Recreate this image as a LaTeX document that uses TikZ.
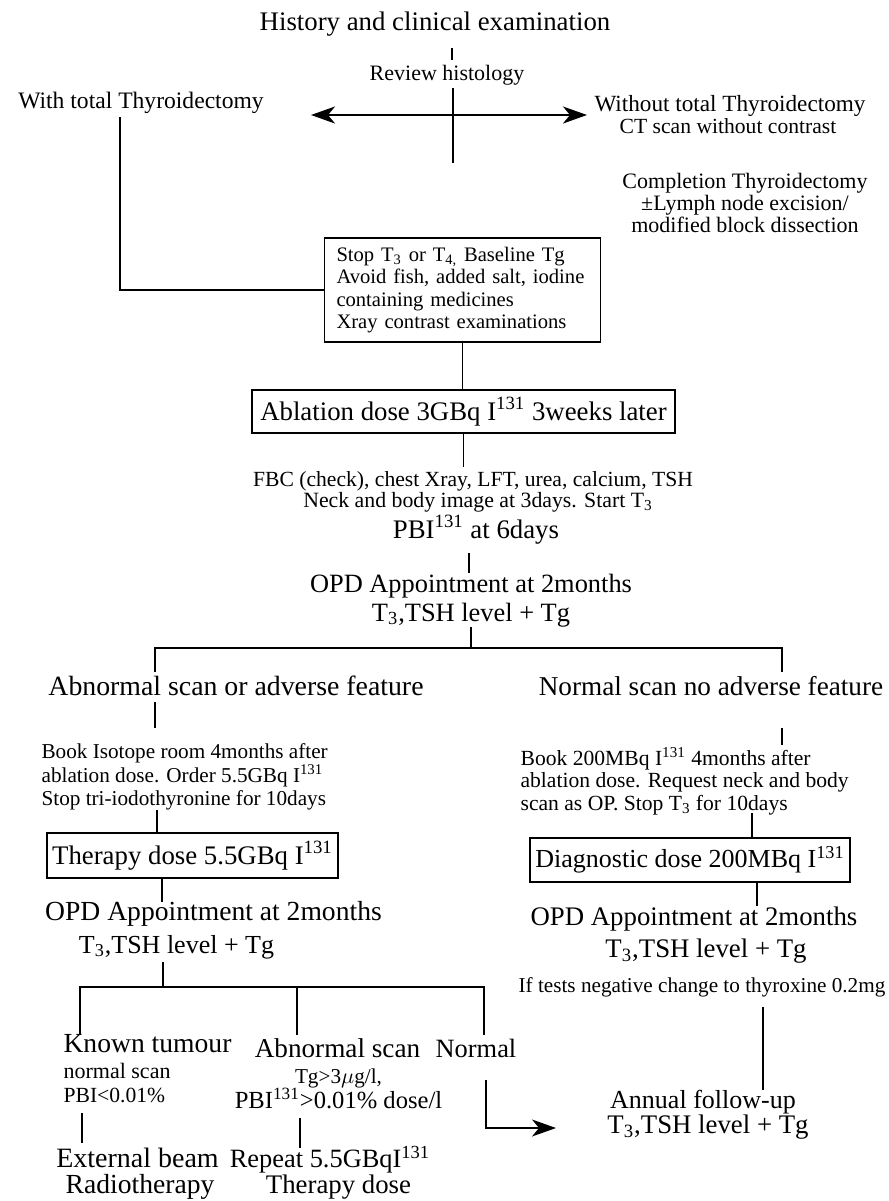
\documentclass[tikz,border=0pt]{standalone}
\usepackage{fontspec}
\setmainfont{Liberation Serif}
\usetikzlibrary{arrows.meta}

\newcommand{\Iod}{I\textsuperscript{131}}
\newcommand{\Tthree}{T\textsubscript{3}}
\newcommand{\fs}[1]{\fontsize{#1}{1.1\dimexpr #1pt\relax}\selectfont}

\begin{document}
\begin{tikzpicture}[x=0.5pt,y=0.5pt,yscale=-1,line width=0.6pt,
    >={Stealth[length=12pt,width=8.5pt,inset=3.5pt]},
    lbl/.style={inner sep=0pt,text height=0.7em,text depth=0.2em},
    bigtxt/.style={lbl,font=\fs{13.4}},
    midtxt/.style={lbl,font=\fs{11.6}},
    smalltxt/.style={lbl,font=\fs{10.8}},
    dosebox/.style={draw,line width=0.8pt,inner sep=2pt,font=\fs{13.4}},
    notes/.style={inner sep=0pt,align=left,anchor=west}]
    \useasboundingbox (0,0) rectangle (889,1201);

    % Text Node
    \node[bigtxt] (title) at (435,25) {History and clinical examination};
    \node[lbl,font=\fs{11}] (histo) at (447,75) {Review histology};
    \node[midtxt,font=\fs{11.8}] (withTT) at (141,103) {With total Thyroidectomy};
    \node[midtxt] (woTT) at (730,106) {Without total Thyroidectomy};
    \node[midtxt,font=\fs{10.8}] (ctscan) at (728,128) {CT scan without contrast};
    \node[inner sep=0pt,align=center,font=\fontsize{11}{9.9}\selectfont] (compl) at (745,203)
        {Completion Thyroidectomy\\±Lymph node excision/\\modified block dissection};

    %Shape: Rectangle
    \node[draw,line width=0.8pt,align=left,text width=126pt,inner xsep=6pt,
        minimum height=52pt,font=\fontsize{10.3}{11.2}\selectfont] (box1) at (462.5,290)
        {Stop \Tthree{} or T\textsubscript{4,} Baseline Tg\\Avoid fish, added salt, iodine\\
         containing medicines\\Xray contrast examinations};
    \node[dosebox,minimum width=211.5pt,minimum height=21.5pt] (ablation) at (463.5,411.5)
        {Ablation dose 3GBq \Iod{} 3weeks later};

    % Text Node
    \node[smalltxt] (fbc) at (473,481) {FBC (check), chest Xray, LFT, urea, calcium, TSH};
    \node[lbl,font=\fs{10.9}] (neck) at (478,502) {Neck and body image at 3days. Start \Tthree};
    \node[bigtxt] (pbi) at (476,533) {PBI\textsuperscript{131} at 6days};
    \node[bigtxt,font=\fs{13.2}] (opdC) at (471,587) {OPD Appointment at 2months};
    \node[bigtxt,font=\fs{13.2}] (tshC) at (471,616) {\Tthree,TSH level + Tg};

    \node[lbl,font=\fs{13.9}] (abn) at (236,690) {Abnormal scan or adverse feature};
    \node[lbl,font=\fs{13.6}] (norm) at (711,690) {Normal scan no adverse feature};

    \node[notes,font=\fontsize{10.6}{11.75}\selectfont] (bookL) at (41,777)
        {Book Isotope room 4months after\\ablation dose. Order 5.5GBq \Iod\\
         Stop tri-iodothyronine for 10days};
    \node[notes,font=\fontsize{10.8}{11.25}\selectfont] (bookR) at (520,781)
        {Book 200MBq \Iod{} 4months after\\ablation dose. Request neck and body\\
         scan as OP. Stop \Tthree{} for 10days};

    %Shape: Rectangle
    \node[dosebox,minimum width=145.5pt,minimum height=22.5pt] (therapy) at (192.5,855.5)
        {Therapy dose 5.5GBq \Iod};
    \node[dosebox,minimum width=160pt,minimum height=22pt,font=\fs{13}] (diag) at (690,860)
        {Diagnostic dose 200MBq \Iod};

    % Text Node
    \node[bigtxt,font=\fs{13.8}] (opdL) at (213.5,915) {OPD Appointment at 2months};
    \node[bigtxt,font=\fs{13}] (tshL) at (176.5,948) {\Tthree,TSH level + Tg};
    \node[bigtxt] (opdR) at (694,920) {OPD Appointment at 2months};
    \node[bigtxt] (tshR) at (706,952) {\Tthree,TSH level + Tg};
    \node[lbl,font=\fs{10.6}] (negtest) at (702,987) {If tests negative change to thyroxine 0.2mg};

    \node[lbl,font=\fs{13.8}] (known) at (147.5,1047) {Known tumour};
    \node[lbl,font=\fs{13.6}] (abnScan) at (337.5,1052) {Abnormal scan};
    \node[lbl,font=\fs{13.2}] (normal) at (476,1052) {Normal};
    \node[smalltxt,font=\fs{11},anchor=west] (nscan) at (63,1073) {normal scan};
    \node[smalltxt,anchor=west] (pbiLow) at (63,1097) {PBI<0.01\%};
    \node[lbl,font=\fs{10.6}] (tgHigh) at (338.5,1078) {Tg>3$\mu$g/l,};
    \node[lbl,font=\fs{12.3}] (pbiHigh) at (338.5,1103) {PBI\textsuperscript{131}>0.01\% dose/l};
    \node[lbl,font=\fs{14}] (extBeam) at (137.5,1162) {External beam};
    \node[lbl,font=\fs{13.8}] (radio) at (140,1188) {Radiotherapy};
    \node[lbl,font=\fs{13.2}] (repeat) at (330,1162) {Repeat 5.5GBq\Iod};
    \node[lbl,font=\fs{13.4}] (thDose) at (338.5,1188) {Therapy dose};
    \node[lbl,font=\fs{13}] (annual) at (703,1103) {Annual follow-up};
    \node[bigtxt] (tshA) at (708,1128) {\Tthree,TSH level + Tg};

    % line ends
    \coordinate (titleA) at (452,48);   \coordinate (titleB) at (452,60);
    \coordinate (crossA) at (453,88);   \coordinate (crossB) at (453,163);
    \coordinate (arrL) at (311,115);    \coordinate (arrR) at (587,115);
    \coordinate (withDn) at (120,117);
    \coordinate (ablEnd) at (463.5,467);
    \coordinate (pbiA) at (469,553);    \coordinate (pbiB) at (469,573);
    \coordinate (opdA) at (471,627);    \coordinate (splitC) at (471,648);
    \coordinate (splitL) at (155,672);  \coordinate (splitR) at (782,672);
    \coordinate (abnA) at (155,702);    \coordinate (abnB) at (155,728);
    \coordinate (normA) at (782,728);   \coordinate (normB) at (782,745);
    \coordinate (bookLdn) at (157,810); \coordinate (bookRdn) at (752,813);
    \coordinate (therEnd) at (162,902); \coordinate (diagEnd) at (757,906);
    \coordinate (opdLA) at (163,962);   \coordinate (splitB) at (163,987);
    \coordinate (knownUp) at (80,1035); \coordinate (abnUp) at (297,1035);
    \coordinate (normUp) at (484,1035); \coordinate (normTop) at (484,987);
    \coordinate (pbiLowA) at (82,1113); \coordinate (pbiLowB) at (82,1143);
    \coordinate (pbiHiA) at (300,1118); \coordinate (pbiHiB) at (300,1148);
    \coordinate (normalDn) at (486,1080); \coordinate (toAnnual) at (556,1128);
    \coordinate (negA) at (763,1007);   \coordinate (negB) at (763,1090);

    %Straight Lines
    \draw (titleA) -- (titleB);
    \draw (crossA) -- (crossB);
    \draw[line width=1.1pt,<->] (arrL) -- (arrR);
    \draw (withDn) |- (box1.west);
    \draw (box1.south) -- (box1.south |- ablation.north);
    \draw (ablation.south -| ablEnd) -- (ablEnd);
    \draw (pbiA) -- (pbiB);
    \draw (opdA) -- (splitC);
    \draw (splitL) |- (splitR |- splitC) -- (splitR);
    \draw (abnA) -- (abnB);
    \draw (normA) -- (normB);
    \draw (bookLdn) -- (bookLdn |- therapy.north);
    \draw (bookRdn) -- (bookRdn |- diag.north);
    \draw (therapy.south -| therEnd) -- (therEnd);
    \draw (diag.south -| diagEnd) -- (diagEnd);
    \draw (opdLA) -- (splitB);
    \draw (knownUp) |- (normTop) -- (normUp);
    \draw (abnUp) -- (abnUp |- normTop);
    \draw (pbiLowA) -- (pbiLowB);
    \draw (pbiHiA) -- (pbiHiB);
    \draw[->] (normalDn) |- (toAnnual);
    \draw (negA) -- (negB);

\end{tikzpicture}
\end{document}
